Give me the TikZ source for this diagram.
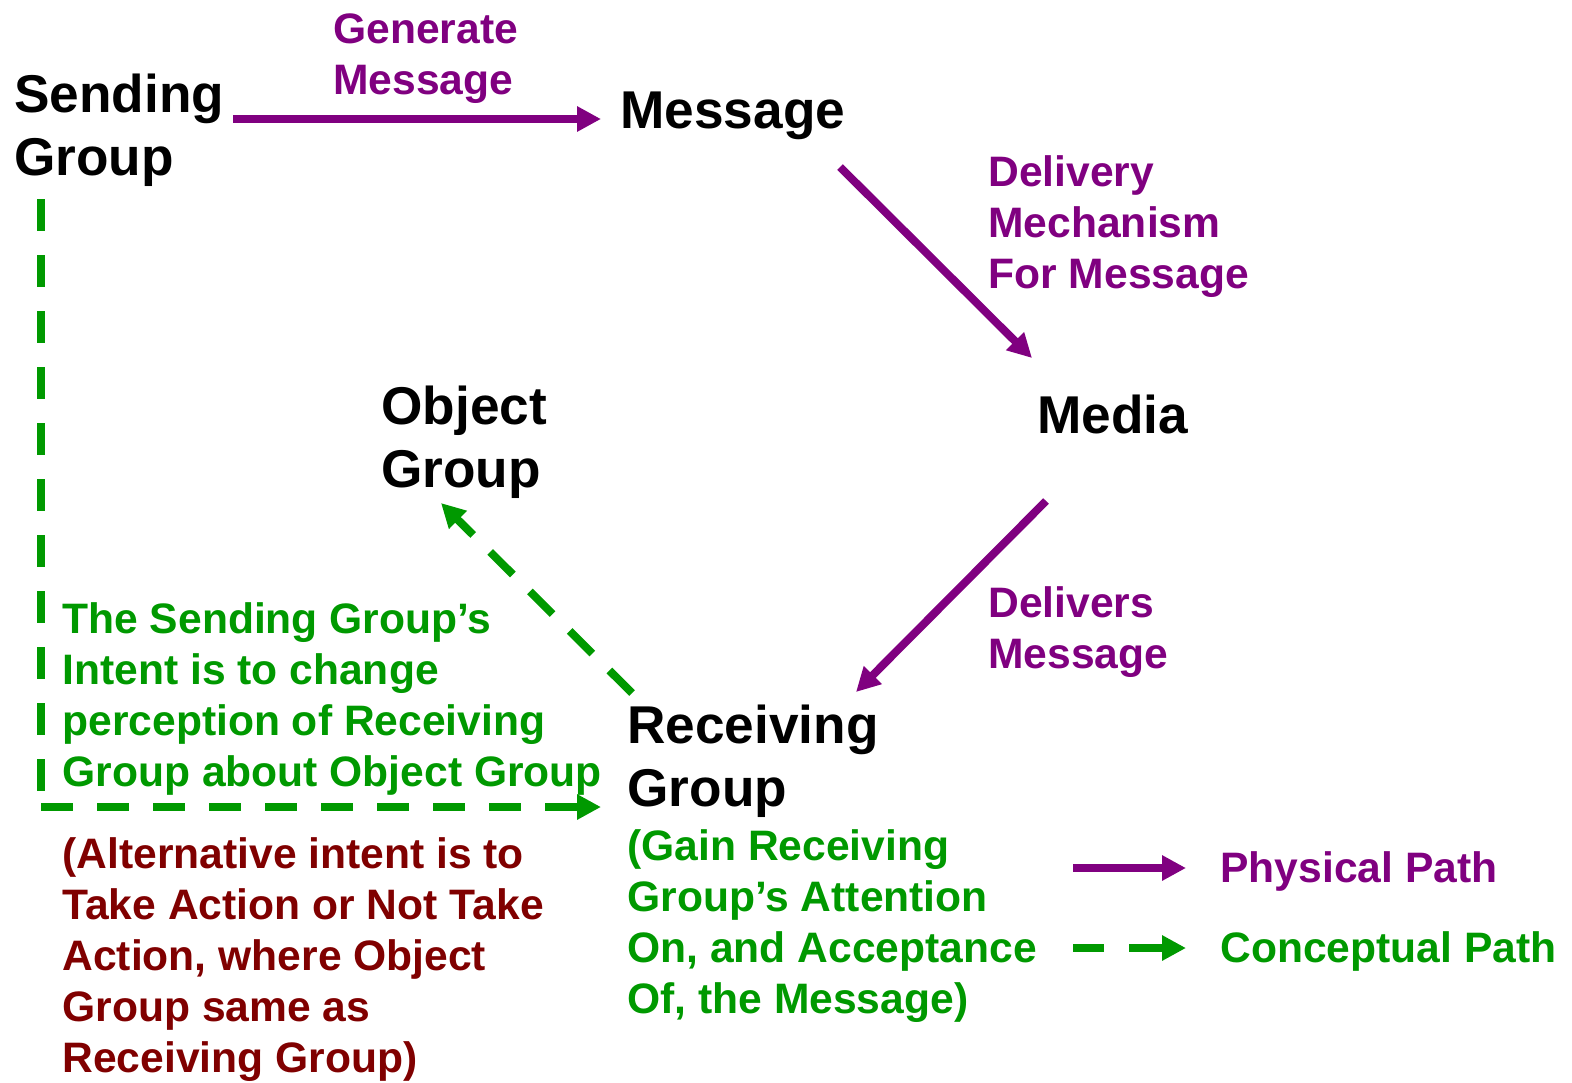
\documentclass[tikz,border=0pt]{standalone}
\usepackage{fontspec}
\setmainfont{Liberation Sans}
\usetikzlibrary{arrows.meta}
\definecolor{physc}{HTML}{800080}
\definecolor{concc}{HTML}{009900}
\definecolor{altc}{HTML}{800000}
\begin{document}
\begin{tikzpicture}[x=0.5pt,y=-0.5pt,
 big/.style={font=\fontsize{26.6}{31.5}\selectfont\bfseries, inner sep=0pt, anchor=base west, align=left},
 lab/.style={font=\fontsize{21.3}{25.5}\selectfont\bfseries, inner sep=0pt, anchor=base west, align=left},
 tipstyle/.style={-{Triangle[length=12pt,width=12pt]}},
 physarrow/.style={draw=physc, line width=4pt, tipstyle},
 concline/.style={draw=concc, line width=4pt, dash pattern=on 16pt off 12pt},
 concarrow/.style={concline, tipstyle}]
\useasboundingbox (0,0) rectangle (1572,1082);
% anchors are at the baseline of the last line
\node[big] (sending) at (14,175) {Sending\\Group};
\node[lab, text=physc] (gen) at (333,94) {Generate\\Message};
\node[big] (message) at (620,128) {Message};
\node[lab,text=physc] (delivery) at (988,288) {Delivery\\Mechanism\\For Message};
\node[big] (media) at (1037,433) {Media};
\node[big] (object) at (381,487) {Object\\Group};
\node[lab,text=physc] (delivers) at (988,668) {Delivers\\Message};
\node[big] (receiving) at (627,806) {Receiving\\Group};
\node[lab,text=concc] (gain) at (627,1013) {(Gain Receiving\\Group’s Attention\\On, and Acceptance\\Of, the Message)};
\node[lab,text=concc] (intent) at (62,786) {The Sending Group’s\\Intent is to change\\perception of Receiving\\Group about Object Group};
\node[lab,text=altc] (alt) at (62,1072) {(Alternative intent is to\\Take Action or Not Take\\Action, where Object\\Group same as\\Receiving Group)};
\node[lab,text=physc] (physlab) at (1220,882) {Physical Path};
\node[lab,text=concc] (conclab) at (1220,962) {Conceptual Path};
% connector ends
\coordinate (sendOut) at (233,119);
\coordinate (msgIn) at (601,119);
\coordinate (msgOut) at (840,167);
\coordinate (mediaIn) at (1032,358);
\coordinate (mediaOut) at (1046,501);
\coordinate (recvIn) at (856,692);
\coordinate (sendDown) at (41,199);
\coordinate (corner) at (41,795);
\coordinate (cornerOut) at (41,807);
\coordinate (recvSide) at (601,807);
\coordinate (recvUp) at (632,693);
\coordinate (objIn) at (441,503);
\coordinate (legP1) at (1073,868);
\coordinate (legP2) at (1186,868);
\coordinate (legC1) at (1073,948);
\coordinate (legC2) at (1186,948);
\draw[physarrow] (sendOut) -- (msgIn);
\draw[physarrow] (msgOut) -- (mediaIn);
\draw[physarrow] (mediaOut) -- (recvIn);
\draw[concline] (sendDown) -- (corner);
\draw[concarrow] (cornerOut) -- (recvSide);
\draw[concarrow] (recvUp) -- (objIn);
\draw[physarrow] (legP1) -- (legP2);
\draw[concarrow, dash pattern=on 15.5pt off 12.5pt on 60pt off 1pt] (legC1) -- (legC2);
\end{tikzpicture}
\end{document}
